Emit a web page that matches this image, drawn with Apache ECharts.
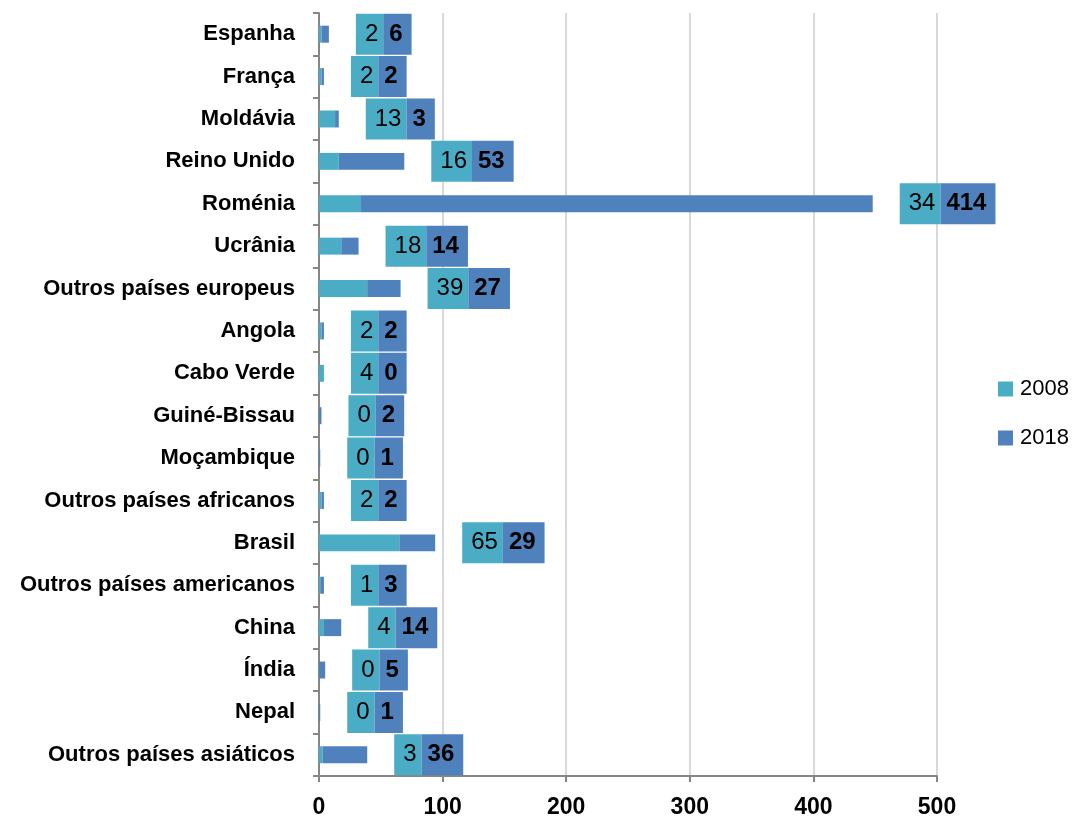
<!DOCTYPE html>
<html>
<head>
<meta charset="utf-8">
<script src="https://cdn.jsdelivr.net/npm/echarts@6/dist/echarts.min.js"></script>
<style>
  html, body { margin: 0; padding: 0; background: #fff; }
  #chart { width: 1076px; height: 820px; }
</style>
</head>
<body>
<div id="chart"></div>
<script>
// dados
var paises = ['Espanha', 'França', 'Moldávia', 'Reino Unido', 'Roménia', 'Ucrânia',
    'Outros países europeus', 'Angola', 'Cabo Verde', 'Guiné-Bissau', 'Moçambique',
    'Outros países africanos', 'Brasil', 'Outros países americanos', 'China', 'Índia',
    'Nepal', 'Outros países asiáticos'];
var valores2008 = [2, 2, 13, 16, 34, 18, 39, 2, 4, 0, 0, 2, 65, 1, 4, 0, 0, 3];
var valores2018 = [6, 2, 3, 53, 414, 14, 27, 2, 0, 2, 1, 2, 29, 3, 14, 5, 1, 36];
var xTicks = [0, 100, 200, 300, 400, 500];

var cor2008 = '#4BACC6';
var cor2018 = '#4F81BD';
var fonte = 'Liberation Sans';

var myChart = echarts.init(document.getElementById('chart'));

var option = {
    animation: false,
    textStyle: { fontFamily: fonte },
    legend: {
        data: ['2008', '2018'],
        orient: 'vertical',
        left: 998,
        top: 378,
        padding: 0,
        itemWidth: 15,
        itemHeight: 15,
        itemGap: 27,
        icon: 'rect',
        textStyle: { fontSize: 22, color: '#000', fontFamily: fonte, padding: [0, 0, 0, 2] }
    },
    grid: {
        left: 319,
        right: 139,
        top: 13,
        bottom: 44
    },
    xAxis: {
        type: 'value',
        min: xTicks[0],
        max: xTicks[xTicks.length - 1],
        interval: 100,
        axisLine: { show: true, lineStyle: { color: '#868686', width: 2 } },
        axisTick: { show: true, length: 6, lineStyle: { color: '#868686', width: 2 } },
        axisLabel: { fontSize: 23, fontWeight: 'bold', color: '#000', margin: 20 },
        splitLine: { show: true, lineStyle: { color: '#D9D9D9', width: 2 } }
    },
    yAxis: {
        type: 'category',
        inverse: true,
        data: paises,
        axisLine: { show: true, lineStyle: { color: '#868686', width: 2 } },
        axisTick: { show: true, length: 6, lineStyle: { color: '#868686', width: 2 } },
        axisLabel: { fontSize: 22, fontWeight: 'bold', color: '#000', margin: 24 }
    },
    series: [
        {
            name: '2008',
            type: 'bar',
            stack: 'total',
            barWidth: '40%',
            itemStyle: { color: cor2008 },
            data: valores2008
        },
        {
            name: '2018',
            type: 'bar',
            stack: 'total',
            barWidth: '40%',
            itemStyle: { color: cor2018 },
            data: valores2018,
            label: {
                show: true,
                position: 'right',
                distance: 27,
                formatter: function (p) {
                    return '{a|' + valores2008[p.dataIndex] + '}{b|' + valores2018[p.dataIndex] + '}';
                },
                rich: {
                    a: {
                        backgroundColor: cor2008,
                        color: '#000',
                        fontSize: 24,
                        fontFamily: fonte,
                        height: 41,
                        lineHeight: 41,
                        padding: [0, 5, 0, 9]
                    },
                    b: {
                        backgroundColor: cor2018,
                        color: '#000',
                        fontSize: 24,
                        fontWeight: 'bold',
                        fontFamily: fonte,
                        height: 41,
                        lineHeight: 41,
                        padding: [0, 9, 0, 6]
                    }
                }
            }
        }
    ]
};

myChart.setOption(option);
</script>
</body>
</html>
